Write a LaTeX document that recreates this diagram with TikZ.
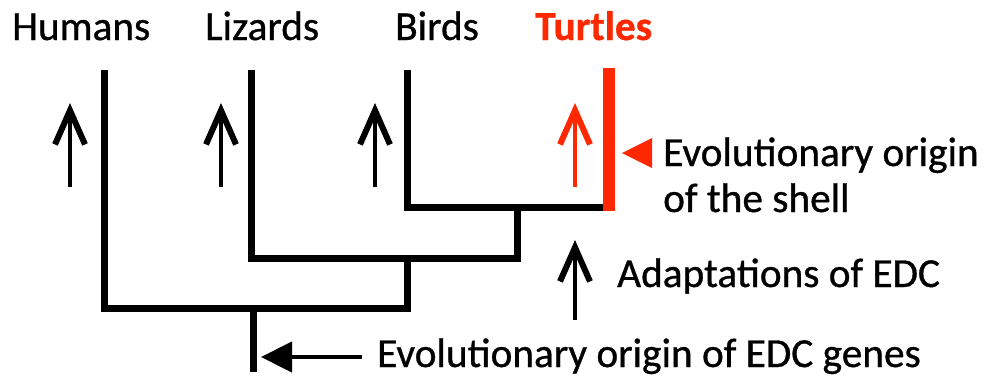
\documentclass[tikz,border=0pt]{standalone}
\usepackage{fontspec}
\setmainfont{Carlito}[FakeBold=0.8]
\usetikzlibrary{arrows.meta}
\definecolor{shellred}{RGB}{255,40,0}
\begin{document}
\begin{tikzpicture}[x=1pt,y=-1pt,
  lbl/.style={anchor=base west,inner sep=0pt,font=\fontsize{41.3}{45}\selectfont},
  tree/.style={line width=7pt,line join=miter,line cap=rect},
  uparrow/.style={line width=4.5pt,-{Straight Barb[length=34pt,width=30pt,line width=6pt]}},
  leftarrow/.style={line width=4.5pt,-{Triangle[length=31pt,width=30pt]}}]
\useasboundingbox (0,0) rectangle (984,381);
% labels
\node[lbl] (hum) at (12,40) {Humans};
\node[lbl] (liz) at (205,40) {Lizards};
\node[lbl] (bir) at (395,40) {Birds};
\node[lbl,text=shellred,font=\fontsize{41.3}{45}\selectfont\bfseries] (tur) at (535,40) {Turtles};
\node[lbl] (shell1) at (663,166) {Evolutionary origin};
\node[lbl] (shell2) at (663,212) {of the shell};
\node[lbl] (adapt) at (617,287) {Adaptations of EDC};
\node[lbl] (edc) at (377,367) {Evolutionary origin of EDC genes};
% tree coordinates
\coordinate (hT) at (104,73);
\coordinate (lT) at (251,73);
\coordinate (bT) at (407,73);
\coordinate (tT) at (609,68);
\coordinate (tB) at (609,211);
\coordinate (bB) at (407,207);
\coordinate (btR) at (603,207);
\coordinate (btM) at (517,207);
\coordinate (lbM) at (517,258);
\coordinate (lB) at (251,258);
\coordinate (lbL) at (407,258);
\coordinate (rootR) at (407,308);
\coordinate (hB) at (104,308);
\coordinate (rootT) at (253,308);
\coordinate (rootB) at (253,372);
% tree
\draw[tree] (hT) -- (hB) -- (rootR) -- (lbL);
\draw[tree] (lT) -- (lB) -- (lbM) -- (btM);
\draw[tree] (bT) -- (bB) -- (btR);
\draw[tree,line cap=butt] (rootT) -- (rootB);
\draw[line width=12pt,shellred] (tT) -- (tB);
% up arrows
\coordinate (a1b) at (70,187); \coordinate (a1t) at (70,103);
\coordinate (a2b) at (221,187); \coordinate (a2t) at (221,103);
\coordinate (a3b) at (375,187); \coordinate (a3t) at (375,103);
\coordinate (a4b) at (575,187); \coordinate (a4t) at (575,103);
\coordinate (a5b) at (575,320); \coordinate (a5t) at (575,240);
\draw[uparrow] (a1b) -- (a1t);
\draw[uparrow] (a2b) -- (a2t);
\draw[uparrow] (a3b) -- (a3t);
\draw[uparrow,shellred] (a4b) -- (a4t);
\draw[uparrow] (a5b) -- (a5t);
% left arrow to root
\coordinate (eS) at (362,357);
\coordinate (eT) at (261,357);
\draw[leftarrow] (eS) -- (eT);
% red marker triangle
\fill[shellred] (622,153) -- (652,138) -- (652,168) -- cycle;
\end{tikzpicture}
\end{document}
